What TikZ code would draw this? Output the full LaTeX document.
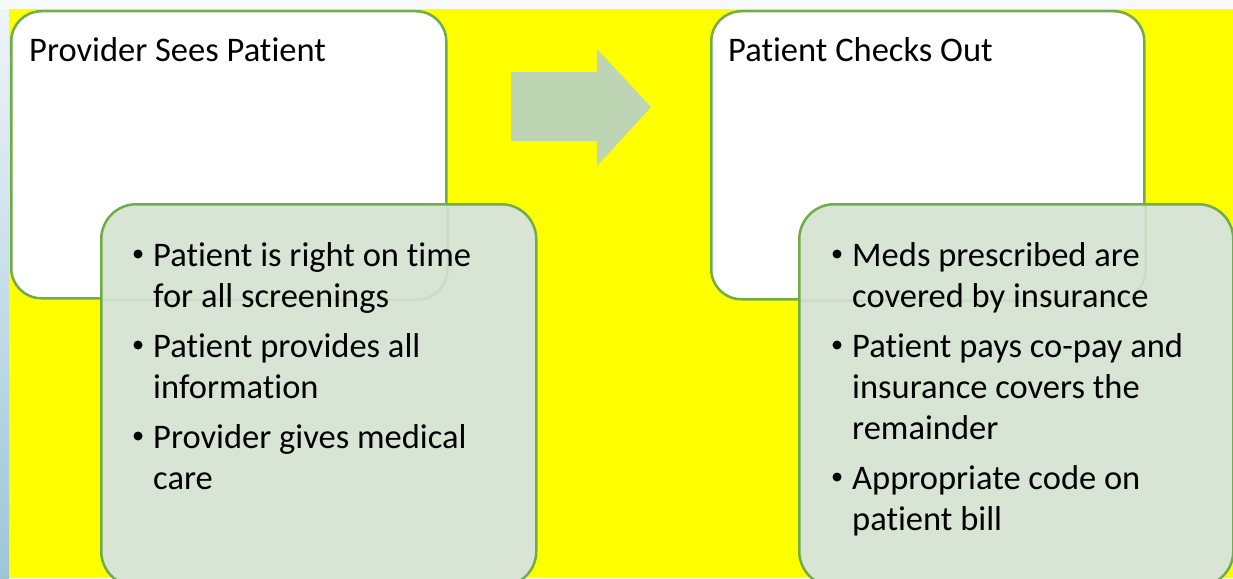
\documentclass[tikz,border=0pt]{standalone}
\usepackage{fontspec}
\setmainfont{Carlito}[Ligatures={NoCommon}]
\definecolor{bgyellow}{HTML}{FFFF00}
\definecolor{topstrip}{HTML}{F7F9FC}
\definecolor{stripbluetop}{HTML}{EEF4F8}
\definecolor{stripbluebot}{HTML}{9CC6D8}
\definecolor{edgegreen}{HTML}{70AD47}
\definecolor{panelgreen}{HTML}{D8E4D4}
\definecolor{arrowsage}{HTML}{BDD5B3}
\begin{document}
\begin{tikzpicture}[x=1pt,y=-1pt,
  stagebox/.style={draw=edgegreen, line width=2.5pt, fill=white,
    rounded corners=30pt, anchor=north west, inner sep=0pt},
  notebox/.style={draw=edgegreen, line width=2.5pt, fill=panelgreen,
    rounded corners=35pt, anchor=north west, inner sep=0pt},
  txt/.style={anchor=base west, inner sep=0pt, text=black,
    font=\fontsize{34.5}{41}\selectfont},
  dot/.style={circle, fill=black, inner sep=0pt, minimum size=9pt},
  ghost/.style={draw=edgegreen, line width=2.5pt, opacity=0.13, rounded corners=30pt}]

% backdrop
\useasboundingbox (0,0) rectangle (1233,578);
\fill[bgyellow] (0,0) rectangle (1233,578);
\fill[topstrip] (0,0) rectangle (1233,9);
\shade[top color=stripbluetop, bottom color=stripbluebot] (0,9) rectangle (9,578);
\fill[topstrip] (0,0) rectangle (9,9);

% stage boxes
\node[stagebox, minimum width=435pt, minimum height=287pt] (seeL) at (10,10) {};
\node[stagebox, minimum width=433pt, minimum height=288pt] (outR) at (710,10) {};

% detail panels
\node[notebox, minimum width=435pt, minimum height=382pt] (noteL) at (100,203) {};
\node[notebox, minimum width=434pt, minimum height=382pt] (noteR) at (798,203) {};

% faint outline of the stage boxes seen through the panels
\begin{scope}
  \clip[rounded corners=33pt] (101.5,204.5) rectangle (533.5,583.5);
  \draw[ghost] (seeL.north west) rectangle (seeL.south east);
\end{scope}
\begin{scope}
  \clip[rounded corners=33pt] (799.5,204.5) rectangle (1230.5,583.5);
  \draw[ghost] (outR.north west) rectangle (outR.south east);
\end{scope}

% block arrow between the stages
\fill[arrowsage] (511,72) -- (597,72) -- (597,49) -- (651,107)
  -- (597,166) -- (597,141) -- (511,141) -- cycle;

% titles
\node[txt] (titleL) at (29,62) {Provider Sees Patient};
\node[txt] (titleR) at (728,62) {Patient Checks Out};

% left bullets
\node[dot] (dL1) at (138,254) {};
\node[txt] (l1a) at (153,266) {Patient is right on time};
\node[txt] (l1b) at (153,307) {for all screenings};
\node[dot] (dL2) at (138,345) {};
\node[txt] (l2a) at (153,357) {Patient provides all};
\node[txt] (l2b) at (153,398) {information};
\node[dot] (dL3) at (138,436) {};
\node[txt] (l3a) at (153,448) {Provider gives medical};
\node[txt] (l3b) at (153,489) {care};

% right bullets
\node[dot] (dR1) at (837,254) {};
\node[txt] (r1a) at (852,266) {Meds prescribed are};
\node[txt] (r1b) at (852,307) {covered by insurance};
\node[dot] (dR2) at (837,345) {};
\node[txt] (r2a) at (852,357) {Patient pays co-pay and};
\node[txt] (r2b) at (852,398) {insurance covers the};
\node[txt] (r2c) at (852,439) {remainder};
\node[dot] (dR3) at (837,477) {};
\node[txt] (r3a) at (852,489) {Appropriate code on};
\node[txt] (r3b) at (852,530) {patient bill};
\end{tikzpicture}
\end{document}
